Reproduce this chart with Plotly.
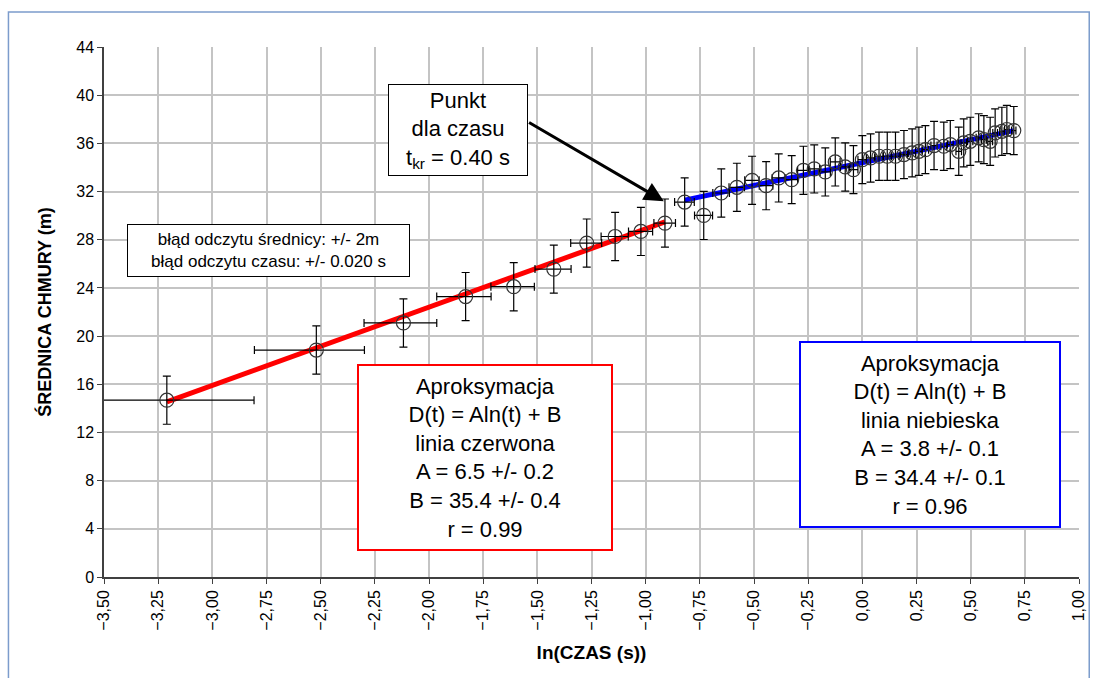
import numpy as np
import plotly.graph_objects as go

# ln(t) and cloud diameter D (m) — early phase (red fit)
red_x = [-3.21, -2.52, -2.118, -1.831, -1.609, -1.424, -1.272, -1.141, -1.022, -0.911]
red_y = [14.68, 18.84, 21.09, 23.28, 24.10, 25.56, 27.72, 28.27, 28.69, 29.38]

# ln(t) and cloud diameter D (m) — late phase (blue fit)
blue_x = [-0.820, -0.732, -0.651, -0.579, -0.509, -0.444, -0.386, -0.326, -0.272,
          -0.222, -0.171, -0.125, -0.079, -0.041, 0.000, 0.038, 0.077, 0.115,
          0.153, 0.192, 0.230, 0.261, 0.291, 0.331, 0.376, 0.406, 0.445, 0.468,
          0.498, 0.537, 0.561, 0.590, 0.613, 0.644, 0.667, 0.699]
blue_y = [31.13, 30.02, 31.88, 32.35, 32.93, 32.49, 33.13, 32.99, 33.76,
          33.88, 33.63, 34.46, 34.04, 33.82, 34.65, 34.79, 34.93, 34.93,
          34.93, 35.07, 35.21, 35.34, 35.48, 35.82, 35.76, 35.90, 35.34, 36.04,
          36.17, 36.46, 36.31, 36.17, 36.87, 37.00, 37.15, 37.06]

# reading errors
err_d = 2.0      # m
err_t = 0.020    # s

# fit parameters D(t) = A ln(t) + B
red_A, red_B = 6.5, 35.4
blue_A, blue_B = 3.8, 34.4
t_kr = 0.40

x_ticks = np.arange(-3.5, 1.0001, 0.25)
y_ticks = list(range(0, 45, 4))

FONT = "Liberation Sans, Arial, sans-serif"


def x_errors(xs):
    xs = np.asarray(xs, dtype=float)
    t = np.exp(xs)
    plus = np.log(t + err_t) - xs
    minus = xs - np.log(t - err_t)
    return plus, minus


fig = go.Figure()

# fitted lines
for xs, A, B, col in [(red_x, red_A, red_B, "#ff0000"), (blue_x, blue_A, blue_B, "#0000ff")]:
    lx = np.array([min(xs), max(xs)])
    fig.add_trace(go.Scatter(x=lx, y=A * lx + B, mode="lines",
                             line=dict(color=col, width=5), hoverinfo="skip"))

# measurement points with error bars
for xs, ys in [(red_x, red_y), (blue_x, blue_y)]:
    p, m = x_errors(xs)
    fig.add_trace(go.Scatter(
        x=xs, y=ys, mode="markers",
        marker=dict(symbol="circle-open", size=14, color="#333333", line=dict(width=1.2)),
        error_y=dict(type="constant", value=err_d, color="black", thickness=1.2, width=4),
        error_x=dict(type="data", array=p, arrayminus=m, symmetric=False,
                     color="black", thickness=1.2, width=4),
    ))

axis_common = dict(
    showgrid=True, gridcolor="#c4c4c4", gridwidth=1.5, zeroline=False,
    showline=True, linecolor="#404040", linewidth=1.5,
    ticks="outside", ticklen=5, tickcolor="#404040",
    tickfont=dict(family=FONT, size=16, color="black"),
)

fig.update_xaxes(range=[-3.5, 1.0], tickvals=x_ticks, tickformat=".2f", tickangle=-90,
                 title=dict(text="<b>ln(CZAS (s))</b>", font=dict(family=FONT, size=19, color="black"),
                            standoff=16),
                 **axis_common)
fig.update_yaxes(range=[0, 44], tickvals=y_ticks,
                 title=dict(text="<b>ŚREDNICA CHMURY (m)</b>", font=dict(family=FONT, size=18, color="black"),
                            standoff=20),
                 **axis_common)

box_font = dict(family=FONT, size=22, color="black")

annotations = [
    dict(x=-2.742, y=27.12, xref="x", yref="y", showarrow=False,
         text="błąd odczytu średnicy: +/- 2m<br>błąd odczytu czasu: +/- 0.020 s",
         font=dict(family=FONT, size=17, color="black"),
         bgcolor="white", bordercolor="black", borderwidth=1, borderpad=3,
         width=275, height=45),
    dict(x=-1.742, y=9.90, xref="x", yref="y", showarrow=False,
         text=("Aproksymacja<br>D(t) = Aln(t) + B<br>linia czerwona<br>"
               f"A = {red_A} +/- 0.2<br>B = {red_B} +/- 0.4<br>r = 0.99"),
         font=box_font, bgcolor="white", bordercolor="#ff0000", borderwidth=2, borderpad=4,
         width=244, height=175),
    dict(x=0.313, y=11.86, xref="x", yref="y", showarrow=False,
         text=("Aproksymacja<br>D(t) = Aln(t) + B<br>linia niebieska<br>"
               f"A = {blue_A} +/- 0.1<br>B = {blue_B} +/- 0.1<br>r = 0.96"),
         font=box_font, bgcolor="white", bordercolor="#0000ff", borderwidth=2, borderpad=4,
         width=250, height=175),
    dict(x=-1.866, y=37.15, xref="x", yref="y", showarrow=False,
         text=f"Punkt<br>dla czasu<br>t<sub>kr</sub> = {t_kr:.2f} s",
         font=box_font, bgcolor="white", bordercolor="black", borderwidth=1, borderpad=3,
         width=132, height=84),
    dict(x=float(np.log(t_kr)), y=31.2, xref="x", yref="y",
         ax=-1.545, ay=37.8, axref="x", ayref="y", text="",
         showarrow=True, arrowhead=2, arrowsize=1.3, arrowwidth=3, arrowcolor="black",
         standoff=0),
]

fig.update_layout(
    width=1099, height=678,
    margin=dict(l=104, r=15, t=47, b=101),
    paper_bgcolor="white", plot_bgcolor="white",
    showlegend=False,
    separators=", ",
    font=dict(family=FONT, color="black"),
    annotations=annotations,
    shapes=[dict(type="rect", xref="paper", yref="paper",
                 x0=-0.098, x1=1.0105, y0=-0.25, y1=1.066,
                 line=dict(color="#7c9ccc", width=1.5), layer="below")],
)

fig.write_html("out.html")
